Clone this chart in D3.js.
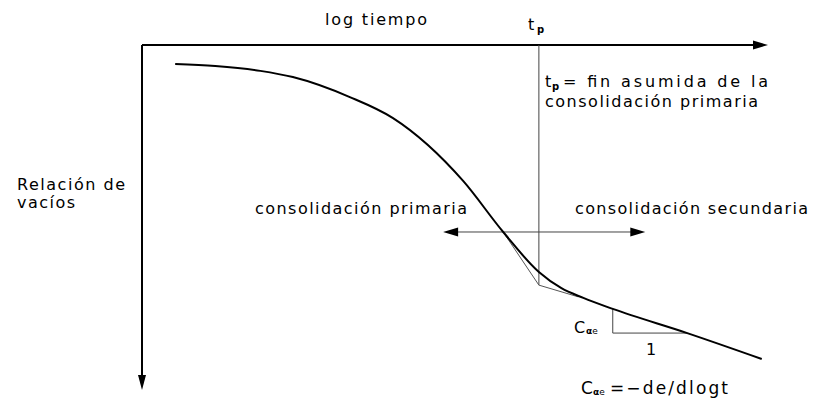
<!DOCTYPE html>
<html>
<head>
<meta charset="utf-8">
<script src="https://cdn.jsdelivr.net/npm/d3@7"></script>
<style>
  html, body { margin: 0; padding: 0; background: #fff; }
  svg { display: block; }
  text { font-family: "DejaVu Sans", sans-serif; fill: #000; }
</style>
</head>
<body>
<svg id="chart" width="815" height="400"></svg>
<script>
// Consolidation curve: void ratio (e) versus log time, arbitrary units
const logT      = [0.53, 1.17, 1.89, 2.41, 3.32, 4.01, 5.13, 5.77, 6.34, 6.70, 7.05, 7.52, 8.71, 9.90];
const voidRatio = [9.45, 9.39, 9.25, 9.07, 8.49, 7.88, 6.06, 4.58, 3.42, 2.95, 2.67, 2.35, 1.65, 0.90];

// Tangent construction used to locate t_p
const tangentT = [5.77, 6.34, 6.97];
const tangentE = [4.58, 3.04, 2.70];
const tp = 6.34;

// Slope triangle for the secondary compression index
const slopeT = [7.52, 7.52, 8.71];
const slopeE = [2.35, 1.65, 1.65];

// Double arrow separating primary / secondary consolidation
const rangeT = [4.81, 8.04];
const rangeE = 4.58;

const svg = d3.select("#chart");
const x = d3.scaleLinear().domain([0, 10]).range([142, 768]);
const y = d3.scaleLinear().domain([10, 0]).range([45, 390]);

const [x0, x1] = x.range();
const [y0, y1] = y.range();

// axes with arrow heads
svg.append("line").attr("x1", x0).attr("y1", y0).attr("x2", x1 - 12).attr("y2", y0)
  .attr("stroke", "#000").attr("stroke-width", 2);
svg.append("path").attr("d", `M${x1},${y0} L${x1 - 15},${y0 - 4.5} L${x1 - 15},${y0 + 4.5} Z`).attr("fill", "#000");
svg.append("line").attr("x1", x0).attr("y1", y0).attr("x2", x0).attr("y2", y1 - 12)
  .attr("stroke", "#000").attr("stroke-width", 2);
svg.append("path").attr("d", `M${x0},${y1} L${x0 - 4},${y1 - 15} L${x0 + 4},${y1 - 15} Z`).attr("fill", "#000");

// t_p vertical line
svg.append("line")
  .attr("x1", x(tp)).attr("x2", x(tp))
  .attr("y1", y0).attr("y2", y(tangentE[1]))
  .attr("stroke", "#444").attr("stroke-width", 1);

// primary / secondary double arrow
const ay = y(rangeE), ax0 = x(rangeT[0]), ax1 = x(rangeT[1]);
svg.append("line").attr("x1", ax0 + 10).attr("x2", ax1 - 10).attr("y1", ay).attr("y2", ay)
  .attr("stroke", "#444").attr("stroke-width", 1);
svg.append("path").attr("d", `M${ax0},${ay} L${ax0 + 15},${ay - 4.5} L${ax0 + 15},${ay + 4.5} Z`).attr("fill", "#000");
svg.append("path").attr("d", `M${ax1},${ay} L${ax1 - 15},${ay - 4.5} L${ax1 - 15},${ay + 4.5} Z`).attr("fill", "#000");

// tangent lines
svg.append("path")
  .attr("d", d3.line().x((d, i) => x(tangentT[i])).y((d, i) => y(tangentE[i]))(tangentT))
  .attr("fill", "none").attr("stroke", "#555").attr("stroke-width", 1);

// slope triangle
svg.append("path")
  .attr("d", d3.line().x((d, i) => x(slopeT[i])).y((d, i) => y(slopeE[i]))(slopeT))
  .attr("fill", "none").attr("stroke", "#444").attr("stroke-width", 1);

// consolidation curve
svg.append("path")
  .attr("d", d3.line().curve(d3.curveMonotoneX)
    .x((d, i) => x(logT[i])).y((d, i) => y(voidRatio[i]))(logT))
  .attr("fill", "none").attr("stroke", "#000").attr("stroke-width", 2);

// labels
function label(txt, lx, ly, width, size) {
  const t = svg.append("text").attr("x", lx).attr("y", ly)
    .attr("font-size", size || 16).text(txt);
  if (width) t.attr("textLength", width).attr("lengthAdjust", "spacing");
  return t;
}
label("log tiempo", 325, 25, 102);
label("t", 528, 30, null, 16);
label("p", 537, 33, null, 10).attr("font-weight", "bold");

label("t", 545, 87, null, 16);
label("p", 552, 90, null, 10).attr("font-weight", "bold");
label("= fin asumida de la", 563, 87, 205);
label("consolidación primaria", 545, 107, 213);

label("Relación de", 17, 190, 108);
label("vacíos", 17, 208, 58);

label("consolidación primaria", 255, 214, 212);
label("consolidación secundaria", 575, 214, 233);

label("C", 574, 333, null, 16);
const s1 = label("", 586, 334, null, 9);
s1.append("tspan").attr("font-weight", "bold").text("α");
s1.append("tspan").text("e");
label("1", 646, 355, null, 16);

label("C", 581, 394, null, 17);
const s2 = label("", 593, 395, null, 9);
s2.append("tspan").attr("font-weight", "bold").text("α");
s2.append("tspan").text("e");
label("=−de/dlogt", 610, 394, 118, 17);
</script>
</body>
</html>
